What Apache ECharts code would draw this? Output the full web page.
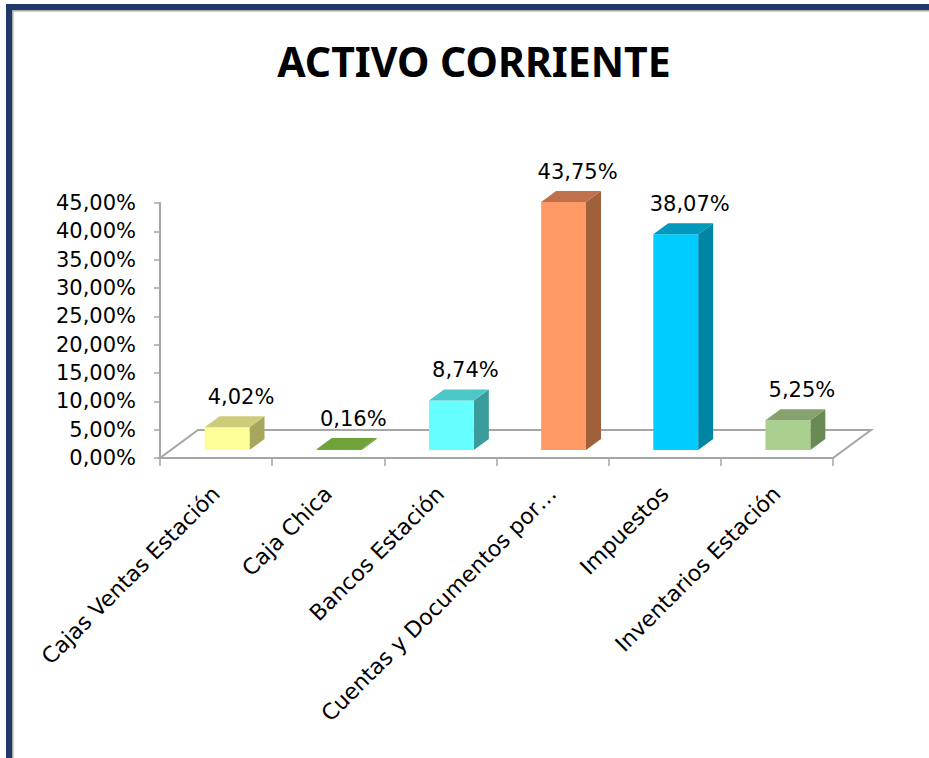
<!DOCTYPE html>
<html>
<head>
<meta charset="utf-8">
<script src="https://cdn.jsdelivr.net/npm/echarts@6/dist/echarts.min.js"></script>
<style>
html,body{margin:0;padding:0;background:#fff;}
#chart{width:929px;height:758px;}
</style>
</head>
<body>
<div id="chart"></div>
<script>
const categories = ['Cajas Ventas Estación', 'Caja Chica', 'Bancos Estación', 'Cuentas y Documentos por…', 'Impuestos', 'Inventarios Estación'];
const values = [4.02, 0.16, 8.74, 43.75, 38.07, 5.25];
const yTicks = [0, 5, 10, 15, 20, 25, 30, 35, 40, 45];
const titleText = 'ACTIVO CORRIENTE';

const frontColors = ['#FFFF99', '#73A83C', '#66FFFF', '#FF9966', '#00CCFF', '#A9D08E'];
const topColors   = ['#CCCC7A', '#6FA33A', '#4CC8C8', '#C0714C', '#0099BB', '#86A36E'];
const sideColors  = ['#A6A65C', '#5E8C30', '#3A9C9C', '#A0603C', '#0085A5', '#6A8A55'];

const fmt = v => v.toFixed(2).replace('.', ',') + '%';
const TITLE_FONT = '"Noto Sans", "Open Sans", sans-serif';
const FONT = '"DejaVu Sans", "Noto Sans", sans-serif';

const chart = echarts.init(document.getElementById('chart'), null, {renderer: 'svg'});

const barData = values.map((v, i) => [i, v]);

const option = {
  backgroundColor: '#ffffff',
  animation: false,
  title: {
    text: titleText,
    left: 469,
    top: 35,
    textAlign: 'center',
    textStyle: {fontFamily: TITLE_FONT, fontWeight: 'bold', fontSize: 41, color: '#000000'}
  },
  graphic: [
    {type: 'rect', shape: {x: 6, y: 4, width: 923, height: 6}, style: {fill: '#1F3A68'}, z: 100},
    {type: 'rect', shape: {x: 6, y: 4, width: 6, height: 754}, style: {fill: '#1F3A68'}, z: 100},
    {type: 'rect', shape: {x: 12, y: 10, width: 917, height: 1.5}, style: {fill: '#A8A8A8'}, z: 100},
    {type: 'rect', shape: {x: 12, y: 10, width: 1.5, height: 748}, style: {fill: '#A8A8A8'}, z: 100}
  ],
  grid: {left: 160, right: 96, top: 203, bottom: 300, containLabel: false},
  xAxis: {
    type: 'category',
    data: categories,
    boundaryGap: true,
    axisLine: {show: true, lineStyle: {color: '#A6A6A6', width: 2}},
    axisTick: {show: true, interval: 0, length: 8, lineStyle: {color: '#A6A6A6', width: 1.5}},
    axisLabel: {
      interval: 0, rotate: 45, margin: 32, hideOverlap: false,
      fontFamily: FONT, fontSize: 22, lineHeight: 24, color: '#000000'
    },
    splitLine: {show: false}
  },
  yAxis: {
    type: 'value',
    min: yTicks[0],
    max: yTicks[yTicks.length - 1],
    interval: yTicks[1] - yTicks[0],
    axisLine: {show: true, lineStyle: {color: '#A6A6A6', width: 2}},
    axisTick: {show: true, length: 6, lineStyle: {color: '#A6A6A6', width: 1.5}},
    axisLabel: {
      margin: 24, fontFamily: FONT, fontSize: 21, lineHeight: 24, color: '#000000',
      formatter: v => fmt(v)
    },
    splitLine: {show: false}
  },
  series: [
    {
      type: 'custom',
      name: 'floor',
      data: [[0, 0]],
      clip: false,
      z: 1,
      silent: true,
      renderItem: function (params, api) {
        const cs = params.coordSys;
        const y0 = api.coord([0, 0])[1];
        const x0 = cs.x, x1 = cs.x + cs.width;
        const dx = 38, dy = -28;
        return {
          type: 'polygon',
          shape: {points: [[x0, y0], [x1, y0], [x1 + dx, y0 + dy], [x0 + dx, y0 + dy]]},
          style: {fill: 'none', stroke: '#A6A6A6', lineWidth: 2}
        };
      }
    },
    {
      type: 'custom',
      name: 'ACTIVO CORRIENTE',
      data: barData,
      encode: {x: 0, y: 1},
      clip: false,
      z: 5,
      renderItem: function (params, api) {
        const i = api.value(0);
        const v = api.value(1);
        const base = api.coord([i, 0]);
        const top = api.coord([i, v]);
        const bw = api.size([1, 0])[0];
        const w = bw * 0.4;
        const ox = bw * 0.098, oy = -8;
        const dx = 15, dy = -11;
        const x0 = base[0] + ox - w / 2, x1 = x0 + w;
        const yb = base[1] + oy, yt = Math.min(top[1] + oy, yb - 1);
        return {
          type: 'group',
          children: [
            {type: 'polygon', shape: {points: [[x1, yt], [x1 + dx, yt + dy], [x1 + dx, yb + dy], [x1, yb]]},
              style: {fill: sideColors[i]}},
            {type: 'rect', shape: {x: x0, y: yt, width: w, height: yb - yt},
              style: {fill: frontColors[i]}},
            {type: 'polygon', shape: {points: [[x0, yt], [x1, yt], [x1 + dx, yt + dy], [x0 + dx, yt + dy]]},
              style: {fill: topColors[i]}},
            {type: 'text', x: base[0] + 25, y: top[1] - 28,
              style: {text: fmt(v), textAlign: 'center', textVerticalAlign: 'bottom',
                font: '21px ' + FONT, fill: '#000000'}}
          ]
        };
      }
    }
  ]
};
chart.setOption(option);
</script>
</body>
</html>
